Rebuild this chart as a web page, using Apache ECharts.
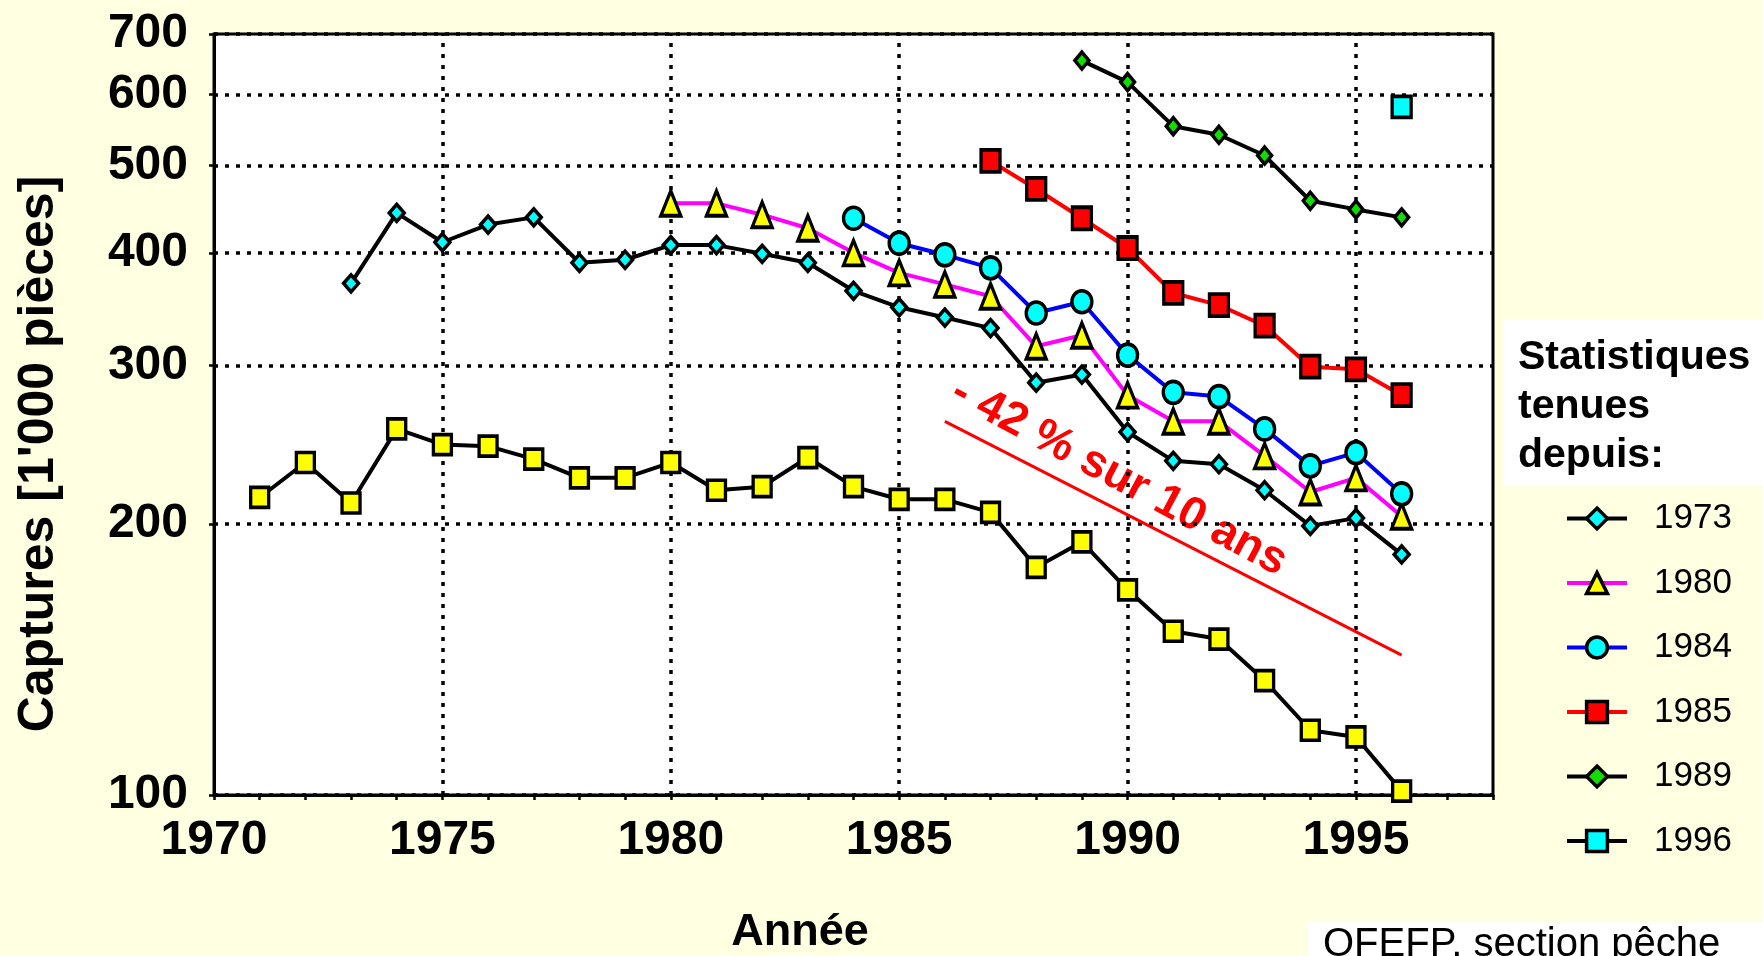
<!DOCTYPE html>
<html>
<head>
<meta charset="utf-8">
<script src="https://cdn.jsdelivr.net/npm/echarts@6/dist/echarts.min.js"></script>
<style>
  html, body { margin: 0; padding: 0; background: #ffffe1; }
  #chart { width: 1763px; height: 956px; }
</style>
</head>
<body>
<div id="chart"></div>
<script>
// années des relevés
const years = [1971, 1972, 1973, 1974, 1975, 1976, 1977, 1978, 1979, 1980, 1981, 1982, 1983,
  1984, 1985, 1986, 1987, 1988, 1989, 1990, 1991, 1992, 1993, 1994, 1995, 1996]

// captures [1'000 pièces], null = pas encore de statistique
const total = [214, 234, 211, 255, 245, 244, 236, 225, 225, 234, 218, 220, 237,
  220, 213, 213, 206, 179, 191, 169, 152, 149, 134, 118, 116, 101]
const since1973 = [null, null, 370, 443, 411, 430, 438, 390, 393, 408, 408, 399, 390,
  363, 348, 339, 330, 287, 293, 253, 235, 233, 218, 199, 203, 185]
const since1980 = [null, null, null, null, null, null, null, null, null, 454, 454, 441, 426,
  400, 380, 369, 358, 315, 324, 278, 260, 260, 238, 217, 225, 204]
const since1984 = [null, null, null, null, null, null, null, null, null, null, null, null, null,
  437, 410, 398, 385, 343, 353, 308, 280, 277, 255, 232, 240, 216]
const since1985 = [null, null, null, null, null, null, null, null, null, null, null, null, null,
  null, null, null, 506, 471, 437, 405, 361, 350, 332, 299, 297, 278]
const since1989 = [null, null, null, null, null, null, null, null, null, null, null, null, null,
  null, null, null, null, null, 654, 619, 553, 541, 513, 457, 447, 438]
const since1996 = [null, null, null, null, null, null, null, null, null, null, null, null, null,
  null, null, null, null, null, null, null, null, null, null, null, null, 581]

const yTicks = [100, 200, 300, 400, 500, 600, 700]
const xLabels = [1970, 1975, 1980, 1985, 1990, 1995]
const xTicks = [1970, 1971, 1972, 1973, 1974, 1975, 1976, 1977, 1978, 1979, 1980, 1981, 1982,
  1983, 1984, 1985, 1986, 1987, 1988, 1989, 1990, 1991, 1992, 1993, 1994, 1995, 1996, 1997, 1998]
const xGrid = [1975, 1980, 1985, 1990, 1995]
// tendance - 42 % sur 10 ans
const trend = [[1986, 260], [1996, 143]]

const FONT = '"Liberation Sans", Arial, sans-serif'
const dotted = { color: '#000', width: 3.5, type: [4, 7] }

const pairs = vals => years.map((y, i) => [y, vals[i]]).filter(p => p[1] != null)

const mkLine = (name, vals, symbol, size, fill, lineColor, extra = {}) => Object.assign({
  name,
  type: 'line',
  data: pairs(vals),
  symbol,
  symbolSize: size,
  showAllSymbol: true,
  lineStyle: { color: lineColor, width: 4 },
  itemStyle: { color: fill, borderColor: '#000', borderWidth: 3.5 },
  emphasis: { disabled: true },
  animation: false
}, extra)

const chart = echarts.init(document.getElementById('chart'))

chart.setOption({
  backgroundColor: '#ffffe1',
  textStyle: { fontFamily: FONT },
  grid: {
    left: 214, right: 270, top: 34, bottom: 161,
    show: true, backgroundColor: '#fff', borderColor: '#000', borderWidth: 3
  },
  xAxis: {
    type: 'value', min: 1970, max: 1998,
    axisLine: { lineStyle: { color: '#000', width: 3 } },
    axisTick: { customValues: xTicks, length: 5, lineStyle: { color: '#000', width: 2.5 } },
    axisLabel: {
      customValues: xLabels, margin: 22, color: '#000',
      fontFamily: FONT, fontWeight: 'bold', fontSize: 48,
      formatter: v => String(v)
    },
    splitLine: { show: false }
  },
  yAxis: {
    type: 'log', logBase: 10, min: 100, max: 700,
    axisLine: { lineStyle: { color: '#000', width: 3 } },
    axisTick: { customValues: yTicks, length: 5, lineStyle: { color: '#000', width: 2.5 } },
    axisLabel: {
      customValues: yTicks, margin: 26, color: '#000',
      fontFamily: FONT, fontWeight: 'bold', fontSize: 48,
      formatter: v => String(v)
    },
    splitLine: { show: true, lineStyle: dotted }
  },
  legend: {
    data: ['1973', '1980', '1984', '1985', '1989', '1996'],
    orient: 'vertical',
    left: 1560, top: 496,
    itemWidth: 60, itemHeight: 26, itemGap: 29.5,
    lineStyle: { width: 4 },
    itemStyle: { borderWidth: 3.5, borderColor: '#000' },
    textStyle: { fontFamily: FONT, fontSize: 35, color: '#000', padding: [0, 0, 0, 22] },
    selectedMode: false
  },
  series: [
    mkLine('total', total, 'rect', [18, 20], '#ffff00', '#000', {
      markLine: {
        silent: true, symbol: 'none', animation: false, z: 1,
        label: { show: false },
        lineStyle: dotted,
        data: xGrid.map(v => ({ xAxis: v }))
      }
    }),
    mkLine('1973', since1973, 'diamond', [15, 17], '#00ffff', '#000', {
      markLine: {
        silent: true, symbol: 'none', animation: false, z: 1,
        label: { show: false },
        lineStyle: { color: '#ff0000', width: 3, type: 'solid' },
        data: [[{ coord: trend[0] }, { coord: trend[1] }]]
      }
    }),
    mkLine('1980', since1980, 'triangle', [20, 25], '#ffff00', '#ff00ff'),
    mkLine('1984', since1984, 'circle', [20, 22], '#00ffff', '#0000ff'),
    mkLine('1985', since1985, 'rect', [19, 22], '#ff0000', '#ff0000'),
    mkLine('1989', since1989, 'diamond', [14, 17], '#11dd00', '#000'),
    mkLine('1996', since1996, 'rect', [19, 21], '#00ffff', '#000')
  ],
  graphic: [
    {
      type: 'text', x: 39, y: 454, rotation: Math.PI / 2,
      style: {
        text: "Captures [1'000 pièces]", fill: '#000',
        font: 'bold 50px ' + FONT, align: 'center', verticalAlign: 'middle'
      }
    },
    {
      type: 'text', x: 800, y: 933,
      style: {
        text: 'Année', fill: '#000',
        font: 'bold 45px ' + FONT, align: 'center', verticalAlign: 'middle'
      }
    },
    {
      type: 'text', x: 1119, y: 477, rotation: -0.49,
      style: {
        text: '- 42 % sur 10 ans', fill: '#ff0000',
        font: 'bold 46px ' + FONT, align: 'center', verticalAlign: 'middle'
      }
    },
    {
      type: 'rect', shape: { x: 1504, y: 320, width: 270, height: 166 },
      style: { fill: '#fff' }
    },
    {
      type: 'text', x: 1518, y: 333,
      style: {
        text: 'Statistiques\ntenues\ndepuis:', fill: '#000',
        font: 'bold 41px ' + FONT, lineHeight: 49, verticalAlign: 'top'
      }
    },
    {
      type: 'rect', shape: { x: 1308, y: 922, width: 460, height: 40 },
      style: { fill: '#fff' }
    },
    {
      type: 'text', x: 1323, y: 925,
      style: {
        text: 'OFEFP, section pêche', fill: '#000',
        font: '40px ' + FONT, verticalAlign: 'top'
      }
    }
  ]
})
</script>
</body>
</html>
